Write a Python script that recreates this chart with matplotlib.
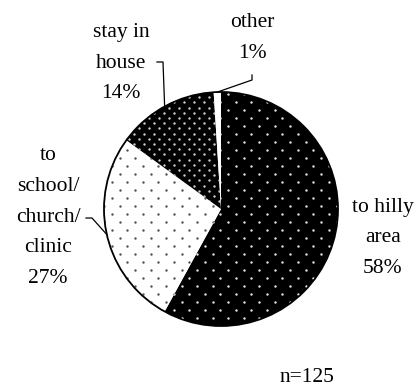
import numpy as np
import matplotlib
matplotlib.use("Agg")
import matplotlib.pyplot as plt
from matplotlib.patches import Circle

# data
labels = ["to hilly\narea", "to\nschool/\nchurch/\nclinic", "stay in\nhouse", "other"]
shares = [58, 27, 14, 1]
n_total = 125

W, H = 420, 387          # figure in pixels
CX, CY, R = 221, 209, 117  # pie centre / radius (image pixels, y down)

fill = ["black", "white", "black", "white"]
# dot texture: (col period, row step, dot colour, dot size)
dots = [(15.5, 8.0, "#e8e8e8", 3.0),
        (15.5, 8.0, "#505050", 3.0),
        (10.0, 5.2, "#d0d0d0", 3.0),
        None]

# label centre positions (image pixels) and leader elbows
lab_pos = [(383, 238), (48, 217), (121, 63), (252, 38)]
leaders = [None, [(86, 218), (92, 218)], [(157, 62), (163, 62)], [(252, 75), (252, 80)]]

plt.rcParams['font.family'] = ['Liberation Serif', 'DejaVu Serif']
FS = 15.5

fig = plt.figure(figsize=(4.2, 3.87), dpi=100)
ax = fig.add_axes([0, 0, 1, 1])

wedges, _ = ax.pie(shares, startangle=90, counterclock=False,
                   center=(CX, H - CY), radius=R, colors=fill,
                   wedgeprops=dict(linewidth=0))


def dot_fill(wedge, dx, dy, color, size):
    ys = np.arange(H - CY - R - dy, H - CY + R + dy, dy)
    px, py = [], []
    for i, y in enumerate(ys):
        xs = np.arange(CX - R - dx, CX + R + dx, dx) + (dx / 2 if i % 2 else 0)
        px.extend(xs)
        py.extend([y] * len(xs))
    sc = ax.scatter(px, py, s=size, c=color, marker='o', linewidths=0, zorder=3)
    sc.set_clip_path(wedge)


for w, d in zip(wedges, dots):
    if d is not None:
        dot_fill(w, *d)

ax.add_patch(Circle((CX, H - CY), R, fill=False, ec="black", lw=1.3, zorder=4))

# labels + leader lines
for i, (lab, sh) in enumerate(zip(labels, shares)):
    x, y = lab_pos[i]
    ax.text(x, H - y, "%s\n%d%%" % (lab, sh), ha="center", va="center",
            multialignment="center", fontsize=FS, linespacing=1.85)
    if leaders[i] is not None:
        w = wedges[i]
        mid = np.deg2rad((w.theta1 + w.theta2) / 2)
        ex, ey = CX + R * np.cos(mid), (H - CY) + R * np.sin(mid)
        xs = [p[0] for p in leaders[i]] + [ex]
        ys = [H - p[1] for p in leaders[i]] + [ey]
        ax.plot(xs, ys, color="black", lw=0.9, zorder=5)

ax.text(307, H - 377, "n=%d" % n_total, ha="center", va="center", fontsize=FS)

ax.set_xlim(0, W)
ax.set_ylim(0, H)
ax.set_aspect("auto")
ax.axis("off")

fig.savefig("out.png", dpi=100)
